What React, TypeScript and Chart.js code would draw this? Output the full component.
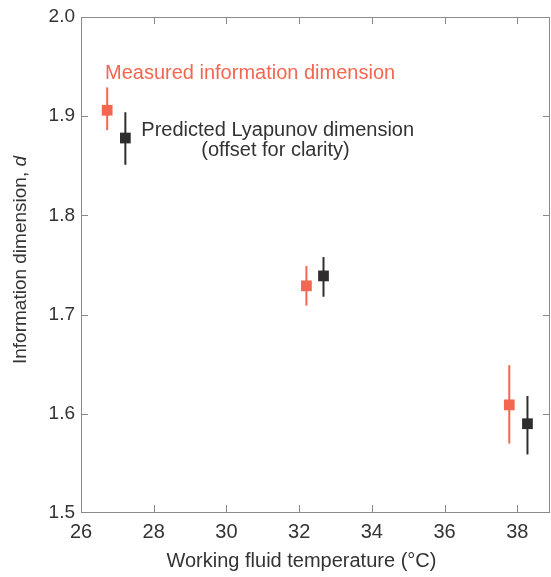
import React, { useEffect, useRef } from "react";
import { Chart, registerables } from "chart.js";

Chart.register(...registerables);

// ---- data ----
const measuredTemp = [26.72, 32.2, 37.78];
const measuredDim = [1.906, 1.729, 1.609];
const measuredLow = [1.886, 1.709, 1.57];
const measuredHigh = [1.929, 1.749, 1.649];

const predictedTemp = [27.22, 32.67, 38.28];
const predictedDim = [1.878, 1.739, 1.59];
const predictedLow = [1.851, 1.718, 1.559];
const predictedHigh = [1.904, 1.758, 1.618];

const xTickValues = [26, 28, 30, 32, 34, 36, 38];
const yTickValues = [1.5, 1.6, 1.7, 1.8, 1.9, 2.0];

const xTitle = "Working fluid temperature (\u00B0C)";
const yTitleMain = "Information dimension, ";
const yTitleItalic = "d";
const measuredLabel = "Measured information dimension";
const predictedLabel1 = "Predicted Lyapunov dimension";
const predictedLabel2 = "(offset for clarity)";

const RED = "#f36650";
const BLACK = "#2e2e2e";
const FRAME = "#8a8a8a";
const TEXT = "#333333";
const FONT_FAMILY = "'Liberation Sans', Arial, Helvetica, sans-serif";

const errorBarPlugin = {
  id: "errorBars",
  beforeDatasetsDraw(chart: any) {
    const { ctx, scales } = chart;
    const x = scales.x;
    const y = scales.y;
    const draw = (ts: number[], lo: number[], hi: number[], color: string) => {
      ctx.save();
      ctx.strokeStyle = color;
      ctx.lineWidth = 2;
      ts.forEach((t, i) => {
        const px = x.getPixelForValue(t);
        ctx.beginPath();
        ctx.moveTo(px, y.getPixelForValue(lo[i]));
        ctx.lineTo(px, y.getPixelForValue(hi[i]));
        ctx.stroke();
      });
      ctx.restore();
    };
    draw(measuredTemp, measuredLow, measuredHigh, RED);
    draw(predictedTemp, predictedLow, predictedHigh, BLACK);
  },
};

const framePlugin = {
  id: "frameAndText",
  afterDraw(chart: any) {
    const { ctx, chartArea, scales } = chart;
    const x = scales.x;
    const y = scales.y;
    const { left, right, top, bottom } = chartArea;
    ctx.save();
    // frame
    ctx.strokeStyle = FRAME;
    ctx.lineWidth = 1;
    ctx.strokeRect(left + 0.5, top + 0.5, right - left - 1, bottom - top - 1);
    // inward ticks
    ctx.beginPath();
    xTickValues.forEach((v) => {
      if (v === x.min || v === x.max) return;
      const px = Math.round(x.getPixelForValue(v)) + 0.5;
      ctx.moveTo(px, bottom);
      ctx.lineTo(px, bottom - 8);
      ctx.moveTo(px, top);
      ctx.lineTo(px, top + 7);
    });
    yTickValues.forEach((v) => {
      if (v === y.min || v === y.max) return;
      const py = Math.round(y.getPixelForValue(v)) + 0.5;
      ctx.moveTo(left, py);
      ctx.lineTo(left + 7, py);
      ctx.moveTo(right, py);
      ctx.lineTo(right - 7, py);
    });
    ctx.stroke();

    // x title
    ctx.fillStyle = TEXT;
    ctx.font = `20px ${FONT_FAMILY}`;
    ctx.textAlign = "center";
    ctx.textBaseline = "middle";
    ctx.fillText(xTitle, left + (right - left) * 0.47, 561);

    // y title (rotated, italic d)
    ctx.save();
    ctx.translate(21, (top + bottom) / 2 - 5);
    ctx.rotate(-Math.PI / 2);
    ctx.font = `19px ${FONT_FAMILY}`;
    const w1 = ctx.measureText(yTitleMain).width;
    ctx.font = `italic 19px ${FONT_FAMILY}`;
    const w2 = ctx.measureText(yTitleItalic).width;
    const start = -(w1 + w2) / 2;
    ctx.textAlign = "left";
    ctx.font = `19px ${FONT_FAMILY}`;
    ctx.fillText(yTitleMain, start, 0);
    ctx.font = `italic 19px ${FONT_FAMILY}`;
    ctx.fillText(yTitleItalic, start + w1, 0);
    ctx.restore();

    // annotations
    ctx.font = `20px ${FONT_FAMILY}`;
    ctx.textAlign = "left";
    ctx.fillStyle = RED;
    ctx.fillText(measuredLabel, x.getPixelForValue(26.66), y.getPixelForValue(1.943));
    ctx.fillStyle = TEXT;
    ctx.fillText(predictedLabel1, x.getPixelForValue(27.66), y.getPixelForValue(1.886));
    ctx.textAlign = "center";
    ctx.fillText(predictedLabel2, x.getPixelForValue(31.35), y.getPixelForValue(1.865));
    ctx.restore();
  },
};

export default function App() {
  const canvasRef = useRef<HTMLCanvasElement | null>(null);

  useEffect(() => {
    if (!canvasRef.current) return;
    const chart = new Chart(canvasRef.current, {
      type: "scatter",
      data: {
        datasets: [
          {
            label: measuredLabel,
            data: measuredTemp.map((t, i) => ({ x: t, y: measuredDim[i] })),
            pointStyle: "rect",
            pointRadius: 7.6,
            pointHoverRadius: 7.6,
            backgroundColor: RED,
            borderWidth: 0,
            showLine: false,
          },
          {
            label: predictedLabel1,
            data: predictedTemp.map((t, i) => ({ x: t, y: predictedDim[i] })),
            pointStyle: "rect",
            pointRadius: 7.6,
            pointHoverRadius: 7.6,
            backgroundColor: BLACK,
            borderWidth: 0,
            showLine: false,
          },
        ],
      },
      options: {
        animation: false,
        responsive: false,
        maintainAspectRatio: false,
        events: [],
        layout: { autoPadding: false, padding: { top: 17, right: 1, left: 0, bottom: 0 } },
        plugins: {
          legend: { display: false },
          tooltip: { enabled: false },
        },
        scales: {
          x: {
            type: "linear",
            min: 26,
            max: 38.9,
            grid: { display: false, drawTicks: false },
            border: { display: false },
            afterBuildTicks: (s: any) => {
              s.ticks = xTickValues.map((v) => ({ value: v }));
            },
            afterFit: (s: any) => {
              s.height = 64;
              s.paddingLeft = 0;
              s.paddingRight = 0;
            },
            ticks: {
              color: TEXT,
              padding: 7,
              maxRotation: 0,
              autoSkip: false,
              font: { size: 20, family: FONT_FAMILY },
              callback: (v: any) => String(v),
            },
          },
          y: {
            type: "linear",
            min: 1.5,
            max: 2.0,
            grid: { display: false, drawTicks: false },
            border: { display: false },
            afterBuildTicks: (s: any) => {
              s.ticks = yTickValues.map((v) => ({ value: v }));
            },
            afterFit: (s: any) => {
              s.width = 81;
              s.paddingTop = 0;
              s.paddingBottom = 0;
            },
            ticks: {
              color: TEXT,
              padding: 6,
              autoSkip: false,
              font: { size: 19, family: FONT_FAMILY },
              callback: (v: any) => Number(v).toFixed(1),
            },
          },
        },
      },
      plugins: [errorBarPlugin, framePlugin],
    });
    return () => chart.destroy();
  }, []);

  return (
    <div style={{ position: "absolute", left: 0, top: 0, width: 551, height: 577, background: "#ffffff" }}>
      <canvas ref={canvasRef} width={551} height={577} style={{ width: 551, height: 577, display: "block" }} />
    </div>
  );
}
